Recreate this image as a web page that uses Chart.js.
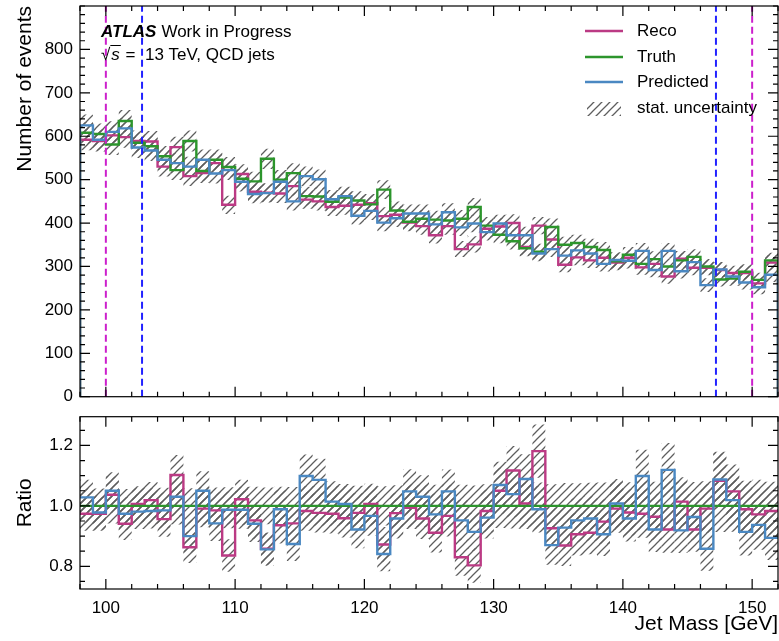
<!DOCTYPE html>
<html>
<head>
<meta charset="utf-8">
<title>Jet mass</title>
<script src="https://cdn.jsdelivr.net/npm/chart.js@4.4.1/dist/chart.umd.min.js"></script>
<style>
    html, body { margin: 0; padding: 0; background: #fff; }
    #wrap { position: relative; width: 779px; height: 641px; }
    #wrap canvas { position: absolute; left: 0; }
    #chart-main { top: 0; }
    #chart-ratio { top: 400px; }
</style>
</head>
<body>
<div id="wrap">
    <canvas id="chart-main" width="779" height="412"></canvas>
    <canvas id="chart-ratio" width="779" height="241"></canvas>
</div>
<script>
// Init
var app = app || {};
app.chart = {};

// Jet mass bin edges [GeV]
var binEdges = [98, 99, 100, 101, 102, 103, 104, 105, 106, 107, 108, 109, 110, 111, 112, 113, 114, 115, 116, 117,
    118, 119, 120, 121, 122, 123, 124, 125, 126, 127, 128, 129, 130, 131, 132, 133, 134, 135, 136, 137,
    138, 139, 140, 141, 142, 143, 144, 145, 146, 147, 148, 149, 150, 151, 152];

// Number of events per bin
var truthCounts = [608, 605, 581, 635, 585, 577, 554, 522, 589, 520,
    546, 529, 502, 496, 548, 500, 515, 462, 461, 449,
    459, 452, 443, 477, 429, 403, 410, 408, 406, 410,
    437, 394, 373, 358, 342, 334, 391, 350, 354, 345,
    338, 312, 327, 306, 317, 300, 314, 322, 300, 270,
    272, 288, 269, 314];
var recoCounts = [592, 589, 602, 598, 589, 588, 530, 575, 508, 515,
    538, 442, 513, 472, 470, 468, 485, 454, 450, 437,
    440, 442, 446, 416, 419, 401, 393, 372, 393, 340,
    351, 387, 392, 400, 345, 394, 362, 304, 321, 314,
    320, 309, 320, 298, 306, 277, 318, 297, 297, 292,
    285, 285, 261, 309];
var predCounts = [625, 592, 610, 618, 574, 567, 546, 538, 530, 546,
    514, 522, 495, 467, 469, 495, 450, 508, 501, 455,
    462, 417, 428, 401, 411, 422, 422, 397, 425, 390,
    399, 379, 399, 372, 372, 330, 340, 325, 337, 330,
    306, 315, 313, 336, 292, 336, 289, 310, 257, 293,
    277, 263, 252, 281];

// Ratio to truth (lower panel)
var recoRatio = [0.974, 0.974, 1.037, 0.941, 1.006, 1.019, 0.956, 1.102, 0.863, 0.991,
    0.985, 0.836, 1.022, 0.952, 0.858, 0.936, 0.942, 0.983, 0.977, 0.974,
    0.959, 0.977, 1.006, 0.872, 0.976, 0.994, 0.958, 0.911, 0.967, 0.830,
    0.803, 0.983, 1.050, 1.117, 1.008, 1.181, 0.926, 0.869, 0.906, 0.911,
    0.948, 0.991, 0.978, 0.974, 0.964, 0.922, 1.014, 0.922, 0.991, 1.083,
    1.048, 0.989, 0.972, 0.983];
var predRatio = [1.028, 0.978, 1.050, 0.974, 0.981, 0.983, 0.985, 1.030, 0.900, 1.050,
    0.942, 0.987, 0.987, 0.941, 0.856, 0.989, 0.874, 1.099, 1.086, 1.014,
    1.006, 0.922, 0.967, 0.841, 0.958, 1.048, 1.030, 0.972, 1.048, 0.952,
    0.914, 0.961, 1.069, 1.039, 1.089, 0.989, 0.870, 0.928, 0.952, 0.958,
    0.906, 1.008, 0.958, 1.099, 0.922, 1.119, 0.919, 0.963, 0.858, 1.087,
    1.019, 0.914, 0.937, 0.894];

// Mass window cuts [GeV]
var recoWindow = [100, 150];
var predWindow = [102.8, 147.2];

// Axis ticks
var massTicks = [100, 110, 120, 130, 140, 150];
var countTicks = [0, 100, 200, 300, 400, 500, 600, 700, 800];
var ratioTicks = [0.8, 1.0, 1.2];

// Style
app.chart.font = "'Liberation Sans', Arial, Helvetica, sans-serif";
app.chart.color = {
    reco: '#bb3a84',
    truth: '#2c952c',
    pred: '#4a88c2',
    recoCut: '#cc1fcc',
    predCut: '#2222ff',
    hatch: '#5e5e5e'
};

Chart.defaults.font.family = app.chart.font;
Chart.defaults.color = '#000';

/**
 * Hatch pattern for the stat. uncertainty
 *
 * @param {*} ctx
 */
app.chart.hatch = function (ctx) {
    var size = 8;
    var tile = document.createElement('canvas');
    tile.width = size;
    tile.height = size;
    var t = tile.getContext('2d');
    t.strokeStyle = app.chart.color.hatch;
    t.lineWidth = 1.25;
    t.beginPath();
    // main diagonal plus the two corners so the tile repeats
    t.moveTo(0, size); t.lineTo(size, 0);
    t.moveTo(-size / 2, size / 2); t.lineTo(size / 2, -size / 2);
    t.moveTo(size / 2, size * 1.5); t.lineTo(size * 1.5, size / 2);
    t.stroke();
    return ctx.createPattern(tile, 'repeat');
};

/**
 * Step points from bin values (optionally closed to a baseline)
 */
app.chart.steps = function (values, baseline) {
    var pts = [];
    var last = binEdges.length - 1;
    if (baseline !== undefined)
        pts.push({ x: binEdges[0], y: baseline });
    values.forEach(function (v, i) {
        pts.push({ x: binEdges[i], y: v });
    });
    pts.push({ x: binEdges[last], y: values[values.length - 1] });
    if (baseline !== undefined)
        pts.push({ x: binEdges[last], y: baseline });
    return pts;
};

/**
 * Hatched band between lower and upper
 */
app.chart.band = function (lower, upper, pattern) {
    return [{
        data: app.chart.steps(lower),
        stepped: 'before',
        borderColor: 'rgba(0,0,0,0)',
        borderWidth: 0,
        pointRadius: 0,
        fill: false,
        order: 10
    }, {
        data: app.chart.steps(upper),
        stepped: 'before',
        borderColor: 'rgba(0,0,0,0)',
        borderWidth: 0,
        pointRadius: 0,
        backgroundColor: pattern,
        fill: '-1',
        order: 10
    }];
};

app.chart.line = function (values, color, order, baseline) {
    return {
        data: app.chart.steps(values, baseline),
        stepped: 'before',
        borderColor: color,
        borderWidth: 2.4,
        pointRadius: 0,
        fill: false,
        order: order
    };
};

app.chart.cut = function (mass, color, top) {
    return {
        data: [{ x: mass, y: 0 }, { x: mass, y: top }],
        borderColor: color,
        borderWidth: 2,
        borderDash: [7, 4],
        pointRadius: 0,
        fill: false,
        order: 0
    };
};

/**
 * Values between min and max on a step
 */
app.chart.tickValues = function (min, max, step) {
    var out = [];
    for (var k = Math.ceil(min / step - 1e-6); k <= Math.floor(max / step + 1e-6); k++)
        out.push(Math.round(k * step * 1000) / 1000);
    return out;
};

app.chart.isMajor = function (v, list) {
    return list.some(function (m) { return Math.abs(m - v) < 1e-6; });
};

// Keep the plot area where the layout padding puts it
app.chart.noLabelPadding = function (scale) {
    scale.paddingTop = 0;
    scale.paddingBottom = 0;
    scale.paddingLeft = 0;
    scale.paddingRight = 0;
};

/**
 * Frame with inward ticks on all four sides
 */
app.chart.frame = {
    id: 'atlasFrame',
    afterDraw: function (chart, args, opts) {
        var ctx = chart.ctx;
        var area = chart.chartArea;
        var xs = chart.scales.x;
        var ys = chart.scales.y;
        ctx.save();
        ctx.strokeStyle = '#000';
        ctx.lineWidth = 1.2;
        ctx.beginPath();
        app.chart.tickValues(xs.min, xs.max, opts.xMinor).forEach(function (v) {
            var len = app.chart.isMajor(v, opts.xMajor) ? 10 : 5;
            var px = xs.getPixelForValue(v);
            ctx.moveTo(px, area.bottom); ctx.lineTo(px, area.bottom - len);
            ctx.moveTo(px, area.top); ctx.lineTo(px, area.top + len);
        });
        app.chart.tickValues(ys.min, ys.max, opts.yMinor).forEach(function (v) {
            var len = app.chart.isMajor(v, opts.yMajor) ? 10 : 5;
            var py = ys.getPixelForValue(v);
            ctx.moveTo(area.left, py); ctx.lineTo(area.left + len, py);
            ctx.moveTo(area.right, py); ctx.lineTo(area.right - len, py);
        });
        ctx.stroke();
        ctx.strokeRect(area.left, area.top, area.right - area.left, area.bottom - area.top);
        ctx.restore();
    }
};

/**
 * ATLAS label and legend
 */
app.chart.labels = {
    id: 'atlasLabels',
    afterDraw: function (chart, args, opts) {
        var ctx = chart.ctx;
        var area = chart.chartArea;
        var font = app.chart.font;
        ctx.save();
        ctx.fillStyle = '#000';
        ctx.textBaseline = 'middle';

        // ATLAS Work in Progress
        var x = area.left + 21;
        var y = area.top + 26;
        ctx.font = 'italic bold 17px ' + font;
        ctx.fillText('ATLAS', x, y);
        x += ctx.measureText('ATLAS').width + 5;
        ctx.font = '17px ' + font;
        ctx.fillText('Work in Progress', x, y);

        // sqrt(s) = 13 TeV
        x = area.left + 21;
        y = area.top + 49;
        ctx.fillText('\u221A', x, y);
        x += ctx.measureText('\u221A').width;
        ctx.font = 'italic 17px ' + font;
        ctx.fillText('s', x + 1, y);
        var sw = ctx.measureText('s').width;
        ctx.strokeStyle = '#000';
        ctx.lineWidth = 1;
        ctx.beginPath();
        ctx.moveTo(x, y - 9.5);
        ctx.lineTo(x + sw + 2, y - 9.5);
        ctx.stroke();
        x += sw + 2;
        ctx.font = '17px ' + font;
        ctx.fillText(' =  13 TeV, QCD jets', x, y);

        // Legend
        var lx = area.right - 193;
        var tx = area.right - 141;
        var rows = [
            { text: 'Reco', color: app.chart.color.reco, y: area.top + 25 },
            { text: 'Truth', color: app.chart.color.truth, y: area.top + 51 },
            { text: 'Predicted', color: app.chart.color.pred, y: area.top + 76 }
        ];
        ctx.lineWidth = 2.4;
        rows.forEach(function (row) {
            ctx.strokeStyle = row.color;
            ctx.beginPath();
            ctx.moveTo(lx, row.y);
            ctx.lineTo(lx + 38, row.y);
            ctx.stroke();
            ctx.fillText(row.text, tx, row.y);
        });
        ctx.fillStyle = opts.pattern;
        ctx.fillRect(lx + 2, area.top + 96, 34, 14);
        ctx.fillStyle = '#000';
        ctx.fillText('stat. uncertainty', tx, area.top + 102);
        ctx.restore();
    }
};

/**
 * Upper panel: number of events
 */
app.chart.drawMain = function () {
    var ctx = document.getElementById('chart-main').getContext('2d');
    var pattern = app.chart.hatch(ctx);
    var countMax = 900;

    var datasets = []
        .concat(app.chart.band(
            truthCounts.map(function (v) { return v - Math.sqrt(v); }),
            truthCounts.map(function (v) { return v + Math.sqrt(v); }), pattern))
        .concat(app.chart.band(
            recoCounts.map(function (v) { return v - Math.sqrt(v); }),
            recoCounts.map(function (v) { return v + Math.sqrt(v); }), pattern))
        .concat(app.chart.band(
            predCounts.map(function (v) { return v - Math.sqrt(v); }),
            predCounts.map(function (v) { return v + Math.sqrt(v); }), pattern));

    datasets.push(app.chart.line(recoCounts, app.chart.color.reco, 3, 0));
    datasets.push(app.chart.line(truthCounts, app.chart.color.truth, 2, 0));
    datasets.push(app.chart.line(predCounts, app.chart.color.pred, 1, 0));
    recoWindow.forEach(function (m) { datasets.push(app.chart.cut(m, app.chart.color.recoCut, countMax)); });
    predWindow.forEach(function (m) { datasets.push(app.chart.cut(m, app.chart.color.predCut, countMax)); });

    app.chart.main = new Chart(ctx, {
        type: 'line',
        data: { datasets: datasets },
        options: {
            responsive: false,
            animation: false,
            devicePixelRatio: 1,
            layout: { padding: { top: 6, right: 1, bottom: 15.3, left: 0 } },
            plugins: {
                legend: { display: false },
                tooltip: { enabled: false },
                atlasFrame: { xMajor: massTicks, xMinor: 2, yMajor: countTicks, yMinor: 20 },
                atlasLabels: { pattern: pattern }
            },
            scales: {
                x: {
                    type: 'linear',
                    min: binEdges[0],
                    max: binEdges[binEdges.length - 1],
                    display: false
                },
                y: {
                    type: 'linear',
                    min: 0,
                    max: countMax,
                    afterBuildTicks: function (scale) {
                        scale.ticks = countTicks.map(function (v) { return { value: v }; });
                    },
                    afterFit: function (scale) {
                        scale.width = 80;
                        app.chart.noLabelPadding(scale);
                    },
                    grid: { display: false, drawTicks: false, tickLength: 0 },
                    border: { display: false },
                    ticks: { font: { size: 17 }, padding: 7, autoSkip: false },
                    title: {
                        display: true,
                        text: 'Number of events',
                        align: 'end',
                        font: { size: 21 },
                        padding: { top: 13, bottom: 0 }
                    }
                }
            }
        },
        plugins: [app.chart.frame, app.chart.labels]
    });
};

/**
 * Lower panel: ratio to truth
 */
app.chart.drawRatio = function () {
    var ctx = document.getElementById('chart-ratio').getContext('2d');
    var pattern = app.chart.hatch(ctx);

    var datasets = []
        .concat(app.chart.band(
            truthCounts.map(function (t) { return 1 - Math.sqrt(2 / t); }),
            truthCounts.map(function (t) { return 1 + Math.sqrt(2 / t); }), pattern))
        .concat(app.chart.band(
            recoRatio.map(function (r, i) { return r - r * Math.sqrt(1 / recoCounts[i] + 1 / truthCounts[i]); }),
            recoRatio.map(function (r, i) { return r + r * Math.sqrt(1 / recoCounts[i] + 1 / truthCounts[i]); }), pattern))
        .concat(app.chart.band(
            predRatio.map(function (r, i) { return r - r * Math.sqrt(1 / predCounts[i] + 1 / truthCounts[i]); }),
            predRatio.map(function (r, i) { return r + r * Math.sqrt(1 / predCounts[i] + 1 / truthCounts[i]); }), pattern));

    datasets.push(app.chart.line(recoRatio, app.chart.color.reco, 3));
    datasets.push(app.chart.line(truthCounts.map(function (t) { return t / t; }), app.chart.color.truth, 2));
    datasets.push(app.chart.line(predRatio, app.chart.color.pred, 1));

    app.chart.ratio = new Chart(ctx, {
        type: 'line',
        data: { datasets: datasets },
        options: {
            responsive: false,
            animation: false,
            devicePixelRatio: 1,
            layout: { padding: { top: 16.7, right: 1, bottom: 0, left: 0 } },
            plugins: {
                legend: { display: false },
                tooltip: { enabled: false },
                atlasFrame: { xMajor: massTicks, xMinor: 2, yMajor: ratioTicks, yMinor: 0.05 }
            },
            scales: {
                x: {
                    type: 'linear',
                    min: binEdges[0],
                    max: binEdges[binEdges.length - 1],
                    afterBuildTicks: function (scale) {
                        scale.ticks = massTicks.map(function (v) { return { value: v }; });
                    },
                    afterFit: function (scale) {
                        scale.height = 52;
                        app.chart.noLabelPadding(scale);
                    },
                    grid: { display: false, drawTicks: false, tickLength: 0 },
                    border: { display: false },
                    ticks: { font: { size: 17 }, padding: 9, autoSkip: false, maxRotation: 0 },
                    title: {
                        display: true,
                        text: 'Jet Mass [GeV]',
                        align: 'end',
                        font: { size: 21 },
                        padding: { top: 0, bottom: 4 }
                    }
                },
                y: {
                    type: 'linear',
                    min: 0.725,
                    max: 1.295,
                    afterBuildTicks: function (scale) {
                        scale.ticks = ratioTicks.map(function (v) { return { value: v }; });
                    },
                    afterFit: function (scale) {
                        scale.width = 80;
                        app.chart.noLabelPadding(scale);
                    },
                    grid: { display: false, drawTicks: false, tickLength: 0 },
                    border: { display: false },
                    ticks: {
                        font: { size: 17 },
                        padding: 7,
                        autoSkip: false,
                        callback: function (v) { return Number(v).toFixed(1); }
                    },
                    title: {
                        display: true,
                        text: 'Ratio',
                        font: { size: 21 },
                        padding: { top: 13, bottom: 0 }
                    }
                }
            }
        },
        plugins: [app.chart.frame]
    });
};

app.chart.drawMain();
app.chart.drawRatio();
</script>
</body>
</html>
